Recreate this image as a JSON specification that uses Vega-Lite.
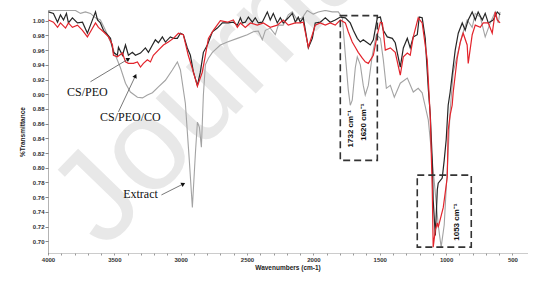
{
  "$schema": "https://vega.github.io/schema/vega-lite/v6.json",
  "width": 479,
  "height": 243,
  "autosize": {"type": "none"},
  "padding": {"left": 48, "top": 10, "right": 27, "bottom": 30},
  "background": "white",
  "view": {"stroke": null},
  "config": {"font": "Liberation Sans"},
  "datasets": {
    "wm": [{"w": 3578, "t": 0.687, "txt": "Journal Pre-proof"}],
    "gray": [
      {"w":3996,"t":1.014},{"w":3868,"t":1.014},{"w":3793,"t":1.014},{"w":3755,"t":1.010},{"w":3718,"t":1.012},{"w":3680,"t":1.010},{"w":3642,"t":1.004},{"w":3605,"t":1.001},{"w":3567,"t":0.987},{"w":3529,"t":0.971},{"w":3492,"t":0.953},{"w":3454,"t":0.936},{"w":3416,"t":0.915},{"w":3379,"t":0.903},{"w":3326,"t":0.896},{"w":3288,"t":0.895},{"w":3251,"t":0.899},{"w":3213,"t":0.902},{"w":3168,"t":0.910},{"w":3115,"t":0.919},{"w":3063,"t":0.933},{"w":3025,"t":0.944},{"w":3002,"t":0.933},{"w":2965,"t":0.888},{"w":2935,"t":0.810},{"w":2912,"t":0.746},{"w":2889,"t":0.820},{"w":2874,"t":0.862},{"w":2859,"t":0.855},{"w":2844,"t":0.828},{"w":2829,"t":0.899},{"w":2814,"t":0.940},{"w":2791,"t":0.949},{"w":2761,"t":0.957},{"w":2701,"t":0.967},{"w":2648,"t":0.971},{"w":2573,"t":0.976},{"w":2498,"t":0.981},{"w":2453,"t":0.985},{"w":2415,"t":0.986},{"w":2385,"t":0.974},{"w":2362,"t":0.987},{"w":2325,"t":0.990},{"w":2287,"t":0.981},{"w":2264,"t":0.994},{"w":2227,"t":0.994},{"w":2189,"t":1.008},{"w":2159,"t":1.012},{"w":2121,"t":1.001},{"w":2084,"t":1.004},{"w":2046,"t":1.014},{"w":2001,"t":1.009},{"w":1963,"t":1.012},{"w":1910,"t":1.014},{"w":1858,"t":1.012},{"w":1812,"t":1.012},{"w":1782,"t":1.004},{"w":1759,"t":0.953},{"w":1737,"t":0.906},{"w":1722,"t":0.885},{"w":1707,"t":0.892},{"w":1684,"t":0.936},{"w":1669,"t":0.951},{"w":1646,"t":0.940},{"w":1624,"t":0.912},{"w":1609,"t":0.899},{"w":1586,"t":0.912},{"w":1556,"t":0.953},{"w":1526,"t":0.981},{"w":1495,"t":0.976},{"w":1473,"t":0.947},{"w":1450,"t":0.908},{"w":1420,"t":0.912},{"w":1390,"t":0.896},{"w":1345,"t":0.915},{"w":1292,"t":0.922},{"w":1247,"t":0.903},{"w":1210,"t":0.908},{"w":1180,"t":0.902},{"w":1134,"t":0.865},{"w":1097,"t":0.797},{"w":1059,"t":0.722},{"w":1037,"t":0.692},{"w":1014,"t":0.722},{"w":991,"t":0.797},{"w":969,"t":0.878},{"w":946,"t":0.930},{"w":916,"t":0.953},{"w":878,"t":0.981},{"w":841,"t":1.001},{"w":803,"t":0.991},{"w":780,"t":1.010},{"w":742,"t":1.005},{"w":705,"t":0.978},{"w":667,"t":0.997},{"w":629,"t":1.012},{"w":607,"t":0.997},{"w":593,"t":1.012}
    ],
    "black": [
      {"w":3996,"t":1.012},{"w":3959,"t":1.010},{"w":3928,"t":0.998},{"w":3906,"t":1.008},{"w":3883,"t":1.001},{"w":3861,"t":1.010},{"w":3846,"t":0.997},{"w":3816,"t":1.004},{"w":3778,"t":0.997},{"w":3740,"t":0.998},{"w":3703,"t":0.983},{"w":3680,"t":0.994},{"w":3642,"t":1.012},{"w":3627,"t":1.001},{"w":3605,"t":0.997},{"w":3582,"t":0.987},{"w":3552,"t":0.981},{"w":3529,"t":0.976},{"w":3507,"t":0.957},{"w":3477,"t":0.953},{"w":3469,"t":0.964},{"w":3439,"t":0.953},{"w":3416,"t":0.967},{"w":3394,"t":0.953},{"w":3364,"t":0.957},{"w":3341,"t":0.953},{"w":3303,"t":0.956},{"w":3266,"t":0.963},{"w":3243,"t":0.957},{"w":3213,"t":0.967},{"w":3191,"t":0.974},{"w":3168,"t":0.970},{"w":3138,"t":0.978},{"w":3115,"t":0.971},{"w":3078,"t":0.978},{"w":3055,"t":0.976},{"w":3025,"t":0.976},{"w":3002,"t":0.983},{"w":2980,"t":0.981},{"w":2950,"t":0.963},{"w":2927,"t":0.953},{"w":2904,"t":0.930},{"w":2874,"t":0.912},{"w":2852,"t":0.930},{"w":2829,"t":0.957},{"w":2799,"t":0.967},{"w":2761,"t":0.985},{"w":2724,"t":0.990},{"w":2686,"t":0.997},{"w":2641,"t":0.997},{"w":2603,"t":0.998},{"w":2573,"t":0.994},{"w":2550,"t":1.004},{"w":2535,"t":0.997},{"w":2513,"t":0.998},{"w":2490,"t":1.005},{"w":2460,"t":0.998},{"w":2438,"t":1.004},{"w":2415,"t":0.997},{"w":2385,"t":0.998},{"w":2347,"t":1.012},{"w":2325,"t":1.001},{"w":2302,"t":1.010},{"w":2272,"t":0.997},{"w":2249,"t":1.004},{"w":2227,"t":0.997},{"w":2189,"t":1.004},{"w":2159,"t":1.010},{"w":2136,"t":0.998},{"w":2114,"t":1.005},{"w":2099,"t":0.998},{"w":2076,"t":1.004},{"w":2038,"t":0.963},{"w":2008,"t":0.976},{"w":1986,"t":0.997},{"w":1948,"t":0.998},{"w":1910,"t":1.004},{"w":1873,"t":0.998},{"w":1835,"t":1.001},{"w":1797,"t":1.005},{"w":1759,"t":1.004},{"w":1722,"t":0.997},{"w":1699,"t":0.987},{"w":1669,"t":0.976},{"w":1646,"t":0.971},{"w":1624,"t":0.974},{"w":1593,"t":0.970},{"w":1571,"t":0.967},{"w":1548,"t":0.974},{"w":1518,"t":1.004},{"w":1495,"t":1.005},{"w":1473,"t":0.987},{"w":1443,"t":0.978},{"w":1405,"t":0.976},{"w":1383,"t":0.970},{"w":1345,"t":0.937},{"w":1322,"t":0.963},{"w":1292,"t":0.976},{"w":1270,"t":0.963},{"w":1247,"t":0.978},{"w":1217,"t":0.981},{"w":1202,"t":1.005},{"w":1180,"t":1.004},{"w":1157,"t":0.976},{"w":1134,"t":0.908},{"w":1119,"t":0.872},{"w":1104,"t":0.810},{"w":1097,"t":0.756},{"w":1081,"t":0.708},{"w":1074,"t":0.736},{"w":1066,"t":0.770},{"w":1059,"t":0.779},{"w":1029,"t":0.786},{"w":1014,"t":0.810},{"w":999,"t":0.838},{"w":984,"t":0.885},{"w":969,"t":0.903},{"w":954,"t":0.926},{"w":931,"t":0.960},{"w":908,"t":0.983},{"w":878,"t":0.997},{"w":856,"t":0.987},{"w":833,"t":1.001},{"w":803,"t":1.012},{"w":780,"t":1.001},{"w":758,"t":1.012},{"w":727,"t":1.001},{"w":705,"t":1.010},{"w":682,"t":0.997},{"w":645,"t":1.001},{"w":614,"t":1.012},{"w":593,"t":1.008}
    ],
    "red": [
      {"w":3996,"t":1.001},{"w":3959,"t":0.998},{"w":3928,"t":0.991},{"w":3906,"t":0.997},{"w":3868,"t":0.990},{"w":3846,"t":0.997},{"w":3816,"t":0.991},{"w":3778,"t":0.994},{"w":3740,"t":0.987},{"w":3703,"t":0.978},{"w":3680,"t":0.985},{"w":3642,"t":0.997},{"w":3620,"t":0.991},{"w":3582,"t":0.985},{"w":3544,"t":0.978},{"w":3514,"t":0.967},{"w":3507,"t":0.953},{"w":3477,"t":0.951},{"w":3439,"t":0.956},{"w":3416,"t":0.944},{"w":3394,"t":0.942},{"w":3356,"t":0.942},{"w":3326,"t":0.944},{"w":3303,"t":0.937},{"w":3281,"t":0.942},{"w":3251,"t":0.947},{"w":3228,"t":0.944},{"w":3206,"t":0.953},{"w":3168,"t":0.960},{"w":3130,"t":0.967},{"w":3093,"t":0.971},{"w":3055,"t":0.976},{"w":3017,"t":0.983},{"w":2980,"t":0.981},{"w":2943,"t":0.953},{"w":2904,"t":0.930},{"w":2874,"t":0.911},{"w":2837,"t":0.930},{"w":2814,"t":0.953},{"w":2791,"t":0.976},{"w":2754,"t":0.987},{"w":2701,"t":1.000},{"w":2648,"t":0.998},{"w":2603,"t":1.001},{"w":2573,"t":0.991},{"w":2550,"t":0.997},{"w":2513,"t":0.991},{"w":2475,"t":0.997},{"w":2422,"t":0.994},{"w":2377,"t":0.997},{"w":2325,"t":0.991},{"w":2272,"t":0.994},{"w":2227,"t":1.001},{"w":2189,"t":0.994},{"w":2136,"t":0.997},{"w":2099,"t":0.997},{"w":2076,"t":0.998},{"w":2038,"t":0.964},{"w":2008,"t":0.981},{"w":1986,"t":0.994},{"w":1948,"t":0.997},{"w":1910,"t":0.994},{"w":1873,"t":0.997},{"w":1835,"t":0.994},{"w":1797,"t":1.001},{"w":1759,"t":0.997},{"w":1737,"t":0.985},{"w":1707,"t":0.971},{"w":1684,"t":0.964},{"w":1662,"t":0.957},{"w":1631,"t":0.949},{"w":1609,"t":0.944},{"w":1586,"t":0.942},{"w":1548,"t":0.953},{"w":1518,"t":0.981},{"w":1495,"t":0.998},{"w":1480,"t":0.997},{"w":1458,"t":0.960},{"w":1420,"t":0.963},{"w":1383,"t":0.957},{"w":1345,"t":0.926},{"w":1322,"t":0.951},{"w":1292,"t":0.956},{"w":1270,"t":0.953},{"w":1247,"t":0.978},{"w":1210,"t":1.004},{"w":1180,"t":0.997},{"w":1142,"t":0.947},{"w":1119,"t":0.869},{"w":1104,"t":0.770},{"w":1097,"t":0.692},{"w":1081,"t":0.715},{"w":1066,"t":0.725},{"w":1059,"t":0.719},{"w":1021,"t":0.746},{"w":991,"t":0.787},{"w":984,"t":0.851},{"w":969,"t":0.872},{"w":954,"t":0.885},{"w":946,"t":0.903},{"w":916,"t":0.949},{"w":893,"t":0.971},{"w":871,"t":0.983},{"w":841,"t":0.967},{"w":833,"t":0.942},{"w":803,"t":0.981},{"w":780,"t":0.994},{"w":742,"t":0.991},{"w":720,"t":0.997},{"w":682,"t":0.997},{"w":652,"t":0.983},{"w":629,"t":1.012},{"w":614,"t":1.001},{"w":593,"t":0.997}
    ],
    "boxes": [
      {"w": 1797, "w2": 1518, "t": 1.007, "t2": 0.810},
      {"w": 1217, "w2": 810, "t": 0.790, "t2": 0.692}
    ],
    "peaks": [
      {"w": 1715, "t": 0.853, "txt": "1732 cm⁻¹"},
      {"w": 1617, "t": 0.862, "txt": "1620 cm⁻¹"},
      {"w": 916, "t": 0.726, "txt": "1053 cm⁻¹"}
    ],
    "names": [
      {"w": 3703, "t": 0.903, "txt": "CS/PEO"},
      {"w": 3379, "t": 0.869, "txt": "CS/PEO/CO"},
      {"w": 3303, "t": 0.764, "txt": "Extract"}
    ],
    "arrows": [
      {"id": "a", "w": 3680, "t": 0.917, "w2": 3394, "t2": 0.948},
      {"id": "b", "w": 3469, "t": 0.876, "w2": 3341, "t2": 0.925},
      {"id": "c", "w": 3145, "t": 0.763, "w2": 2980, "t2": 0.778}
    ]
  },
  "encoding": {
    "x": {
      "field": "w", "type": "quantitative",
      "scale": {"domain": [4000, 390], "nice": false, "zero": false},
      "axis": {
        "title": "Wavenumbers (cm-1)",
        "values": [500,600,700,800,900,1000,1100,1200,1300,1400,1500,1600,1700,1800,1900,2000,2100,2200,2300,2400,2500,2600,2700,2800,2900,3000,3100,3200,3300,3400,3500,3600,3700,3800,3900,4000],
        "format": "d",
        "labelExpr": "datum.value % 500 === 0 ? datum.label : ''",
        "labelFont": "Liberation Sans", "labelFontSize": 6, "labelFontWeight": "bold", "labelColor": "#333",
        "labelPadding": 1, "labelOverlap": false, "labelFlush": false,
        "tickSize": 2, "tickColor": "#999",
        "domainColor": "#999", "domainDash": [1, 1],
        "grid": false,
        "titleFont": "Liberation Sans", "titleFontSize": 6.5, "titleFontWeight": "bold", "titleColor": "#222", "titlePadding": 2
      }
    },
    "y": {
      "field": "t", "type": "quantitative",
      "scale": {"domain": [0.684, 1.0146], "nice": false, "zero": false},
      "axis": {
        "title": "%Transmittance",
        "values": [0.70,0.72,0.74,0.76,0.78,0.80,0.82,0.84,0.86,0.88,0.90,0.92,0.94,0.96,0.98,1.00],
        "format": ".2f",
        "labelFont": "Liberation Sans", "labelFontSize": 6, "labelFontWeight": "bold", "labelColor": "#333",
        "labelPadding": 1, "labelOverlap": false, "labelFlush": false,
        "tickSize": 3, "tickColor": "#888",
        "domainColor": "#666", "domainDash": [1, 1],
        "grid": false,
        "titleFont": "Liberation Sans", "titleFontSize": 6.5, "titleFontWeight": "bold", "titleColor": "#222", "titlePadding": 7
      }
    }
  },
  "layer": [
    {
      "data": {"name": "wm"},
      "mark": {"type": "text", "angle": -46, "align": "left", "baseline": "alphabetic", "fontSize": 130, "font": "Liberation Sans", "color": "#e8e8e8"},
      "encoding": {"text": {"field": "txt"}}
    },
    {
      "data": {"values": [{}]},
      "mark": {"type": "rule", "color": "#d9d9d9", "strokeWidth": 2},
      "encoding": {"x": {"datum": 4000}, "x2": {"datum": 390}, "y": {"datum": 1.0146}}
    },
    {
      "data": {"name": "gray"},
      "mark": {"type": "line", "color": "#a3a3a3", "strokeWidth": 1.1, "clip": true},
      "encoding": {"order": {"field": "w", "sort": "descending"}}
    },
    {
      "data": {"name": "black"},
      "mark": {"type": "line", "color": "#262626", "strokeWidth": 1.2, "clip": true},
      "encoding": {"order": {"field": "w", "sort": "descending"}}
    },
    {
      "data": {"name": "red"},
      "mark": {"type": "line", "color": "#e3232b", "strokeWidth": 1.2, "clip": true},
      "encoding": {"order": {"field": "w", "sort": "descending"}}
    },
    {
      "data": {"name": "boxes"},
      "mark": {"type": "rect", "fill": null, "fillOpacity": 0, "stroke": "#333", "strokeWidth": 1.6, "strokeDash": [7, 4]},
      "encoding": {"x2": {"field": "w2"}, "y2": {"field": "t2"}}
    },
    {
      "data": {"name": "peaks"},
      "mark": {"type": "text", "angle": 270, "align": "center", "baseline": "middle", "fontSize": 8, "fontWeight": "bold", "font": "Liberation Sans", "color": "#111"},
      "encoding": {"text": {"field": "txt"}}
    },
    {
      "data": {"name": "names"},
      "mark": {"type": "text", "align": "center", "baseline": "middle", "fontSize": 12, "font": "Liberation Serif", "color": "#111"},
      "encoding": {"text": {"field": "txt"}}
    },
    {
      "data": {"name": "arrows"},
      "mark": {"type": "rule", "color": "#555", "strokeWidth": 0.8},
      "encoding": {"x2": {"field": "w2"}, "y2": {"field": "t2"}}
    },
    {
      "data": {"name": "arrows"},
      "transform": [{"filter": "datum.id === 'a'"}],
      "mark": {"type": "point", "shape": "triangle-up", "filled": true, "color": "#111", "size": 22, "angle": 59, "opacity": 1},
      "encoding": {"x": {"field": "w2", "type": "quantitative"}, "y": {"field": "t2", "type": "quantitative"}}
    },
    {
      "data": {"name": "arrows"},
      "transform": [{"filter": "datum.id === 'b'"}],
      "mark": {"type": "point", "shape": "triangle-up", "filled": true, "color": "#111", "size": 22, "angle": 25, "opacity": 1},
      "encoding": {"x": {"field": "w2", "type": "quantitative"}, "y": {"field": "t2", "type": "quantitative"}}
    },
    {
      "data": {"name": "arrows"},
      "transform": [{"filter": "datum.id === 'c'"}],
      "mark": {"type": "point", "shape": "triangle-up", "filled": true, "color": "#111", "size": 22, "angle": 63, "opacity": 1},
      "encoding": {"x": {"field": "w2", "type": "quantitative"}, "y": {"field": "t2", "type": "quantitative"}}
    }
  ]
}
